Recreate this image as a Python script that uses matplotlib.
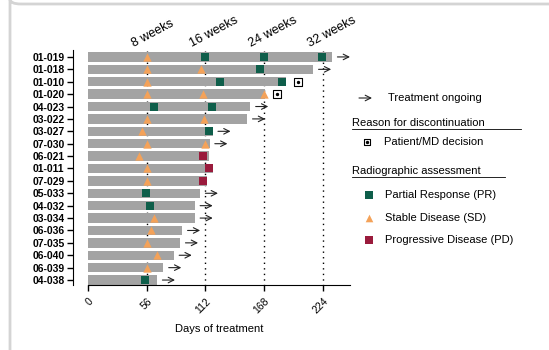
import numpy as np
import matplotlib
matplotlib.use('Agg')
import matplotlib.pyplot as plt
from matplotlib.patches import FancyBboxPatch

plt.rcParams['font.family'] = ['Liberation Sans', 'DejaVu Sans']

# patient rows, top to bottom
patients = ['01-019', '01-018', '01-010', '01-020', '04-023', '03-022', '03-027',
            '07-030', '06-021', '01-011', '07-029', '05-033', '04-032', '03-034',
            '06-036', '07-035', '06-040', '06-039', '04-038']
# days on treatment
days = [233, 215, 189, 169, 155, 152, 119, 116, 115, 119, 114, 107, 102, 102,
        90, 88, 82, 72, 66]
# still on treatment?
ongoing = [1, 1, 0, 0, 1, 1, 1, 1, 0, 0, 0, 1, 1, 1, 1, 1, 1, 1, 1]
# patient/MD decision marker (day)
decision = {2: 200, 3: 180}
# assessments: (row, day)
pr_pts = [(0, 112), (0, 168), (0, 223), (1, 164), (2, 126), (2, 185), (4, 63),
          (4, 118), (6, 115), (11, 55), (12, 59), (18, 54)]
sd_pts = [(0, 56), (1, 56), (1, 108), (2, 56), (3, 56), (3, 110), (3, 168),
          (5, 56), (5, 111), (6, 52), (7, 56), (7, 112), (8, 49), (9, 56),
          (10, 56), (13, 63), (14, 60), (15, 56), (16, 66), (17, 56)]
pd_pts = [(8, 110), (9, 115), (10, 110)]

weeks = [56, 112, 168, 224]
week_labels = ['8 weeks', '16 weeks', '24 weeks', '32 weeks']
xticks = [0, 56, 112, 168, 224]

c_bar = '#a3a3a3'
c_pr = '#0e5e4a'
c_sd = '#f4a259'
c_pd = '#9a1b3c'

W, H = 549, 350
fig = plt.figure(figsize=(W / 100, H / 100), dpi=100)
fig.patch.set_facecolor('white')

# outer frame
frame = FancyBboxPatch((10 / W, 1 - 4 / H), 600 / W, -400 / H,
                       boxstyle='round,pad=0,rounding_size=0.02',
                       transform=fig.transFigure, fill=False,
                       edgecolor='#d4d4d4', lw=2)
fig.patches.append(frame)

n = len(patients)
ax = fig.add_axes([88 / W, 1 - 285 / H, 262 / W, 235 / H])
y = np.arange(n)

ax.barh(y, days, height=0.75, color=c_bar, zorder=2)

for w in weeks:
    ax.vlines(w, -0.5, n - 0.6, colors='black', linestyles=(0, (1, 3)),
              lw=1, zorder=1)

for i in range(n):
    if ongoing[i]:
        ax.annotate('', xy=(days[i] + 17, i), xytext=(days[i] + 5, i),
                    arrowprops=dict(arrowstyle='->', lw=0.8, color='#222222',
                                    shrinkA=0, shrinkB=0), zorder=4)
for i, d in decision.items():
    ax.scatter(d, i, marker='s', s=28, facecolor='white', edgecolor='black',
               lw=0.8, zorder=4)
    ax.scatter(d, i, marker='o', s=2, color='black', zorder=5)

ax.scatter([p[1] for p in pr_pts], [p[0] for p in pr_pts], marker='s', s=40,
           color=c_pr, zorder=3, lw=0)
ax.scatter([p[1] for p in sd_pts], [p[0] for p in sd_pts], marker='^', s=36,
           color=c_sd, zorder=3, lw=0)
ax.scatter([p[1] for p in pd_pts], [p[0] for p in pd_pts], marker='s', s=40,
           color=c_pd, zorder=3, lw=0)

ax.set_xlim(0, 250)
ax.set_ylim(n - 1 + 0.4, -0.56)
for s in ['top', 'right']:
    ax.spines[s].set_visible(False)
ax.spines['left'].set_position(('outward', 11))
ax.tick_params(axis='both', direction='out', length=4, width=1)
ax.tick_params(axis='y', pad=2)
ax.tick_params(axis='x', pad=4)

ax.set_yticks(y, patients)
ax.set_xticks(xticks, [str(t) for t in xticks])
for t in ax.get_yticklabels():
    t.set_fontweight('bold')
    t.set_fontsize(7.5)
for t in ax.get_xticklabels():
    t.set_fontsize(7.5)
    t.set_rotation(45)
    t.set_ha('right')
    t.set_rotation_mode('anchor')
ax.set_xlabel('Days of treatment', fontsize=8, labelpad=6)

for w, lab in zip(weeks, week_labels):
    ax.text(w - 11, 1.0, lab, transform=ax.get_xaxis_transform(),
            fontsize=9, rotation=28, ha='left', va='bottom',
            rotation_mode='anchor')

# legend panel in pixel coordinates
lg = fig.add_axes([0, 0, 1, 1], facecolor='none')
lg.set_xlim(0, W)
lg.set_ylim(H, 0)
lg.axis('off')
lg.annotate('', xy=(372, 98), xytext=(359, 98),
            arrowprops=dict(arrowstyle='->', lw=0.8, color='#222222',
                            shrinkA=0, shrinkB=0))
lg.text(388, 98, 'Treatment ongoing', fontsize=8, va='center')
lg.text(352, 123, 'Reason for discontinuation', fontsize=8, va='center')
lg.plot([352, 521], [129, 129], color='black', lw=0.6)
lg.scatter(367, 142, marker='s', s=24, facecolor='white', edgecolor='black', lw=0.8)
lg.scatter(367, 142, marker='o', s=2, color='black')
lg.text(384, 142, 'Patient/MD decision', fontsize=8, va='center')
lg.text(352, 171, 'Radiographic assessment', fontsize=8, va='center')
lg.plot([352, 505], [177, 177], color='black', lw=0.6)
lg.scatter(369, 195, marker='s', s=34, color=c_pr, lw=0)
lg.text(385, 195, 'Partial Response (PR)', fontsize=8, va='center')
lg.scatter(369, 218, marker='^', s=30, color=c_sd, lw=0)
lg.text(385, 218, 'Stable Disease (SD)', fontsize=8, va='center')
lg.scatter(369, 240, marker='s', s=34, color=c_pd, lw=0)
lg.text(385, 240, 'Progressive Disease (PD)', fontsize=8, va='center')

fig.savefig('out.png', dpi=100)
